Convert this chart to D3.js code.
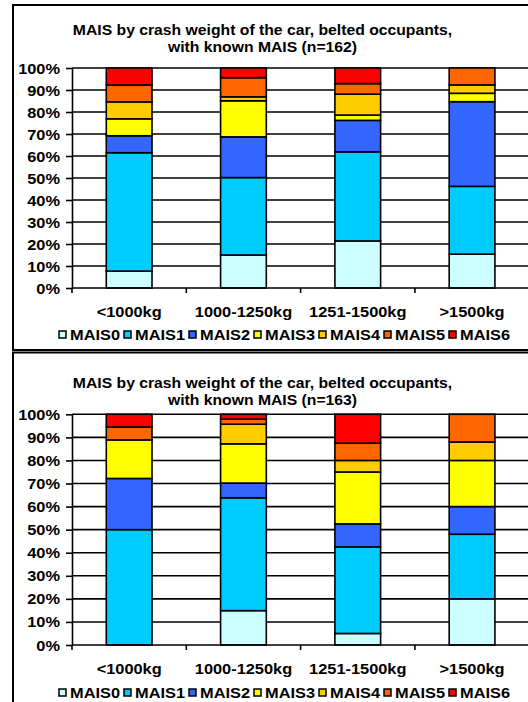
<!DOCTYPE html>
<html><head><meta charset="utf-8">
<script src="https://cdn.jsdelivr.net/npm/d3@7"></script>
<style>html,body{margin:0;padding:0;background:#fff}svg{display:block}</style>
</head><body>
<script>
const categories = ["<1000kg", "1000-1250kg", "1251-1500kg", ">1500kg"];
const seriesNames = ["MAIS0", "MAIS1", "MAIS2", "MAIS3", "MAIS4", "MAIS5", "MAIS6"];
const seriesColors = ["#CCFFFF", "#00CCFF", "#3366FF", "#FFFF00", "#FFCC00", "#FF6600", "#FF0000"];
const yTickValues = [0, 10, 20, 30, 40, 50, 60, 70, 80, 90, 100];
const titleTop = ["MAIS by crash weight of the car, belted occupants,", "with known MAIS (n=162)"];
const titleBottom = ["MAIS by crash weight of the car, belted occupants,", "with known MAIS (n=163)"];

// upper chart (n=162), percent per category
const topMAIS0 = [7.7, 15.0, 21.4, 15.4];
const topMAIS1 = [53.8, 35.2, 40.5, 30.8];
const topMAIS2 = [7.7, 18.5, 14.3, 38.5];
const topMAIS3 = [7.7, 16.4, 2.4, 3.8];
const topMAIS4 = [7.7, 1.8, 9.5, 3.8];
const topMAIS5 = [7.7, 8.7, 4.8, 7.7];
const topMAIS6 = [7.7, 4.4, 7.1, 0];

// lower chart (n=163), percent per category
const botMAIS0 = [0, 14.9, 5.0, 20.0];
const botMAIS1 = [50.0, 48.9, 37.5, 28.0];
const botMAIS2 = [22.2, 6.4, 10.0, 12.0];
const botMAIS3 = [16.7, 17.0, 22.5, 20.0];
const botMAIS4 = [0, 8.5, 5.0, 8.0];
const botMAIS5 = [5.6, 2.2, 7.5, 12.0];
const botMAIS6 = [5.5, 2.1, 12.5, 0];

const W = 528, H = 702;
const FONT = "'Liberation Sans', Arial, sans-serif";
const SX = 1.17;

const svg = d3.select("body").append("svg").attr("width", W).attr("height", H);
svg.append("rect").attr("width", W).attr("height", H).attr("fill", "#fff");

function label(g, x, y, str, anchor, size, sx) {
  return g.append("text")
    .attr("transform", `translate(${x},${y}) scale(${sx},1)`)
    .attr("text-anchor", anchor)
    .attr("font-family", FONT).attr("font-weight", "bold")
    .attr("font-size", size).attr("fill", "#000")
    .text(str);
}

function drawPanel(cfg) {
  const g = svg.append("g");
  const rows = categories.map((c, i) => {
    const r = { cat: c };
    seriesNames.forEach((s, k) => r[s] = cfg.values[k][i]);
    return r;
  });
  const stacked = d3.stack().keys(seriesNames)(rows);

  const x = d3.scaleBand().domain(categories).range([72, 529.2]).paddingInner(0.6).paddingOuter(0.3);
  const xCat = d3.scaleBand().domain(categories).range([72, 529.2]).padding(0);
  const y = d3.scaleLinear().domain([0, 100]).range([cfg.y0, cfg.y100]);

  // title
  cfg.title.forEach((t, i) => label(g, 262.5, cfg.titleY[i], t, "middle", 15, 1.05));

  // gridlines
  g.append("g").selectAll("line").data(yTickValues.filter(d => d > 0)).join("line")
    .attr("x1", 72).attr("x2", W).attr("y1", d => y(d)).attr("y2", d => y(d))
    .attr("stroke", "#000").attr("stroke-width", 1.6);

  // y axis
  const ya = g.append("g").attr("transform", "translate(72,0)")
    .call(d3.axisLeft(y).tickValues(yTickValues).tickSize(6).tickSizeOuter(0).tickFormat(d => d + "%"));
  ya.select(".domain").attr("stroke", "#000").attr("stroke-width", 1.6);
  ya.selectAll(".tick line").attr("stroke", "#000").attr("stroke-width", 1.6);
  ya.selectAll(".tick text")
    .attr("x", null).attr("dy", null)
    .attr("transform", `translate(-12,5) scale(${SX},1)`)
    .attr("font-family", FONT).attr("font-weight", "bold").attr("font-size", 14).attr("fill", "#000");

  // bars
  stacked.forEach((layer, k) => {
    g.append("g").selectAll("rect").data(layer.filter(d => d[1] - d[0] > 0)).join("rect")
      .attr("x", d => x(d.data.cat))
      .attr("width", x.bandwidth())
      .attr("y", d => y(d[1]))
      .attr("height", d => y(d[0]) - y(d[1]))
      .attr("fill", seriesColors[k])
      .attr("stroke", "#000").attr("stroke-width", 1.6);
  });

  // x axis
  const xa = g.append("g").attr("transform", `translate(0,${cfg.y0})`);
  xa.append("line").attr("x1", 72).attr("x2", W).attr("stroke", "#000").attr("stroke-width", 1.6);
  const bounds = categories.map(c => xCat(c));
  xa.selectAll("line.tk").data(bounds).join("line").attr("class", "tk")
    .attr("x1", d => d).attr("x2", d => d).attr("y1", 0).attr("y2", 5)
    .attr("stroke", "#000").attr("stroke-width", 1.6);
  categories.forEach(c => label(g, xCat(c) + xCat.bandwidth() / 2, cfg.catY, c, "middle", 14, SX));

  // legend
  seriesNames.forEach((s, k) => {
    const lx = 59 + 65 * k;
    g.append("rect").attr("x", lx).attr("y", cfg.legY - 9).attr("width", 7).attr("height", 7)
      .attr("fill", seriesColors[k]).attr("stroke", "#000").attr("stroke-width", 1.5);
    label(g, lx + 11, cfg.legY, s, "start", 14, SX);
  });
}

// frames
svg.append("rect").attr("x", 13).attr("y", 5).attr("width", 540).attr("height", 345)
  .attr("fill", "none").attr("stroke", "#000").attr("stroke-width", 2);
svg.append("rect").attr("x", 13).attr("y", 352.5).attr("width", 540).attr("height", 400)
  .attr("fill", "none").attr("stroke", "#000").attr("stroke-width", 2);

drawPanel({
  values: [topMAIS0, topMAIS1, topMAIS2, topMAIS3, topMAIS4, topMAIS5, topMAIS6],
  title: titleTop, titleY: [35, 52], y0: 288, y100: 68, catY: 316.5, legY: 340
});
drawPanel({
  values: [botMAIS0, botMAIS1, botMAIS2, botMAIS3, botMAIS4, botMAIS5, botMAIS6],
  title: titleBottom, titleY: [388, 405], y0: 645, y100: 414.3, catY: 674, legY: 698
});
</script>
</body></html>
